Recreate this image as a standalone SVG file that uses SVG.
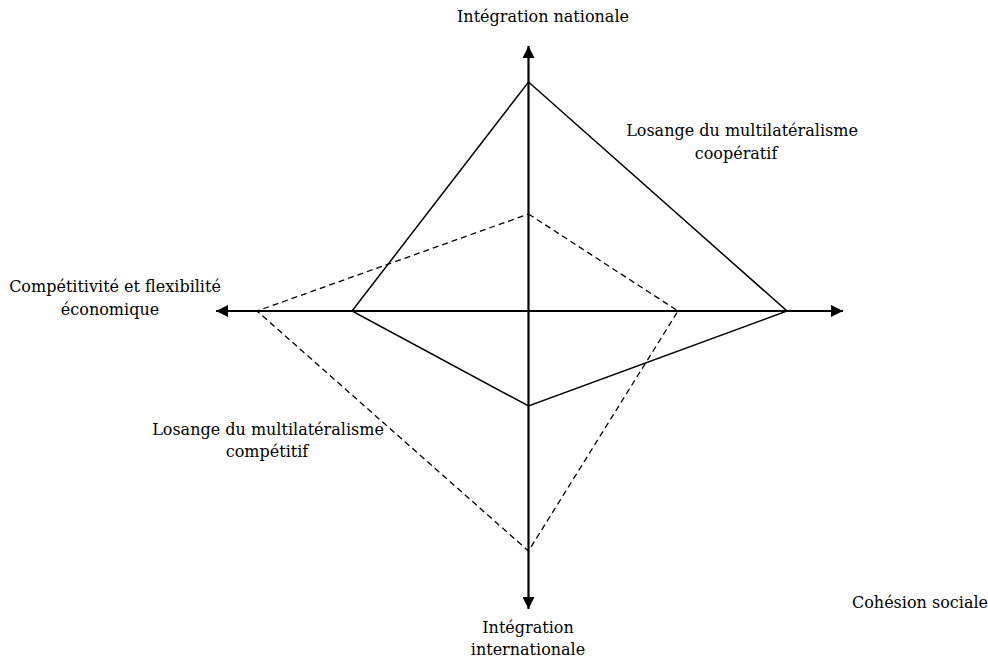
<svg xmlns="http://www.w3.org/2000/svg" width="988" height="659" viewBox="0 0 988 659">
<defs>
<style>
text{font-family:"DejaVu Serif","Liberation Serif",serif;font-size:16px;fill:#000;text-anchor:middle}
.axis{stroke:#000;stroke-width:2.2;fill:none}
.solid{stroke:#000;stroke-width:1.5;fill:none;stroke-linejoin:miter}
.dash{stroke:#000;stroke-width:1.3;fill:none;stroke-dasharray:6 4}
</style>
<marker id="arr" markerWidth="12" markerHeight="12" viewBox="0 0 12 12" refX="12" refY="6" orient="auto" markerUnits="userSpaceOnUse">
<path d="M0,0 L12,6 L0,12 Z" fill="#000"/>
</marker>
</defs>
<rect width="988" height="659" fill="#fff"/>
<g id="connectors">
<line class="axis" x1="528.5" y1="311" x2="528.5" y2="46" marker-end="url(#arr)"/>
<line class="axis" x1="528.5" y1="311" x2="528.5" y2="609" marker-end="url(#arr)"/>
<line class="axis" x1="528.5" y1="311" x2="216" y2="311" marker-end="url(#arr)"/>
<line class="axis" x1="528.5" y1="311" x2="843" y2="311" marker-end="url(#arr)"/>
</g>
<g id="losange-cooperatif">
<polygon class="solid" points="528.5,82 787,311 528.5,406 352,311"/>
</g>
<g id="losange-competitif">
<polygon class="dash" points="528.5,214 678,311 528.5,551 257,311"/>
</g>
<g id="label-integration-nationale"><text x="543" y="22">Intégration nationale</text></g>
<g id="label-cooperatif"><text x="742" y="136">Losange du multilatéralisme</text><text x="736" y="159">coopératif</text></g>
<g id="label-competitivite"><text x="115" y="292">Compétitivité et flexibilité</text><text x="110" y="315">économique</text></g>
<g id="label-competitif"><text x="268" y="435">Losange du multilatéralisme</text><text x="267" y="457">compétitif</text></g>
<g id="label-cohesion"><text x="920" y="608">Cohésion sociale</text></g>
<g id="label-integration-internationale"><text x="528" y="633">Intégration</text><text x="528" y="655">internationale</text></g>
</svg>
